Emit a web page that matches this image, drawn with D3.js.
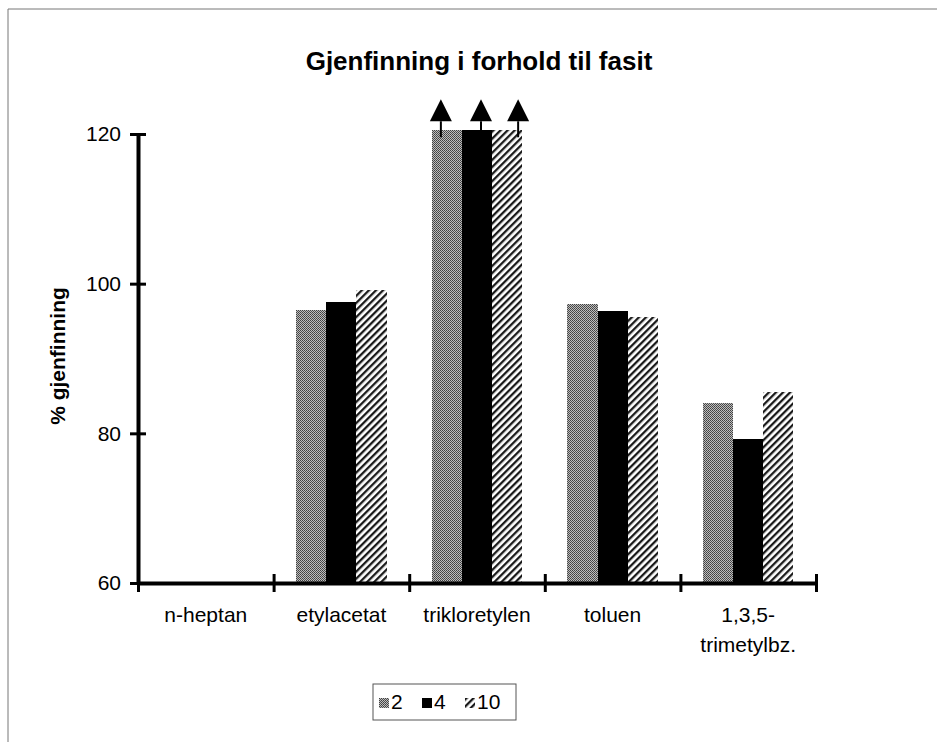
<!DOCTYPE html>
<html>
<head>
<meta charset="utf-8">
<script src="https://cdn.jsdelivr.net/npm/d3@7/dist/d3.min.js"></script>
<style>
  body { margin: 0; background: #fff; }
  svg { display: block; font-family: "Liberation Sans", Arial, sans-serif; }
</style>
</head>
<body>
<svg id="chart"></svg>
<script>
const categories = [["n-heptan"], ["etylacetat"], ["trikloretylen"], ["toluen"], ["1,3,5-", "trimetylbz."]]
const seriesNames = ["2", "4", "10"]
const values2 = [null, 96.5, 120.5, 97.3, 84.1]
const values4 = [null, 97.6, 120.5, 96.4, 79.2]
const values10 = [null, 99.1, 120.5, 95.6, 85.5]
const offScale = [false, false, true, false, false]
const yTicks = [60, 80, 100, 120]

const w = 937
const h = 742

const svg = d3.select("#chart")
  .attr("width", w)
  .attr("height", h)

// fill patterns like the old b/w print
const defs = svg.append("defs")
const dots = defs.append("pattern")
  .attr("id", "p2").attr("patternUnits", "userSpaceOnUse")
  .attr("width", 2).attr("height", 2)
dots.append("rect").attr("width", 2).attr("height", 2).attr("fill", "#bdbdbd")
dots.append("rect").attr("width", 1).attr("height", 1).attr("fill", "#404040")
dots.append("rect").attr("x", 1).attr("y", 1).attr("width", 1).attr("height", 1).attr("fill", "#505050")
const hatch = defs.append("pattern")
  .attr("id", "p10").attr("patternUnits", "userSpaceOnUse")
  .attr("width", 5).attr("height", 5)
  .attr("patternTransform", "rotate(45)")
hatch.append("rect").attr("width", 5).attr("height", 5).attr("fill", "#fff")
hatch.append("rect").attr("width", 2.3).attr("height", 5).attr("fill", "#1a1a1a")
const fills = ["url(#p2)", "#000", "url(#p10)"]

// frame (only top and left are visible in the scan)
svg.append("path")
  .attr("d", `M8,${h} L8,9 L${w},9`)
  .attr("fill", "none")
  .attr("stroke", "#777")
  .attr("stroke-width", 1)

svg.append("text")
  .attr("x", 479).attr("y", 70)
  .attr("text-anchor", "middle")
  .attr("font-size", 26).attr("font-weight", "bold")
  .text("Gjenfinning i forhold til fasit")

const plotLeft = 138, plotRight = 816, plotTop = 134, plotBottom = 583

const y = d3.scaleLinear().domain([60, 120]).range([plotBottom, plotTop])
const xEdge = d3.scaleLinear().domain([0, categories.length]).range([plotLeft, plotRight])
const xBand = d3.scaleBand().domain(d3.range(categories.length)).range([plotLeft, plotRight])
const xSeries = d3.scaleBand().domain(seriesNames).range([0, xBand.bandwidth()]).paddingOuter(0.75)

const data = seriesNames.map((s, i) => ({ name: s, values: [values2, values4, values10][i] }))

// bars
data.forEach((s, si) => {
  svg.append("g").selectAll("rect")
    .data(s.values.map((v, ci) => ({ v, ci })).filter(d => d.v != null))
    .enter()
    .append("rect")
    .attr("x", d => xBand(d.ci) + xSeries(s.name))
    .attr("y", d => y(d.v))
    .attr("width", xSeries.bandwidth())
    .attr("height", d => plotBottom - y(d.v))
    .attr("fill", fills[si])
    .attr("shape-rendering", "crispEdges")
})

// hand drawn arrows for values above the scale, a bit off the bar centres
const arrowShift = [-6, 4, 11]
data.forEach((s, si) => {
  s.values.forEach((v, ci) => {
    if (!offScale[ci]) return
    const cx = xBand(ci) + xSeries(s.name) + xSeries.bandwidth() / 2 + arrowShift[si]
    const base = y(v) - 9
    svg.append("line")
      .attr("x1", cx).attr("x2", cx)
      .attr("y1", y(v) + 7).attr("y2", base)
      .attr("stroke", "#000").attr("stroke-width", 2)
    svg.append("path")
      .attr("d", `M${cx - 11},${base} L${cx + 11},${base} L${cx},${base - 22} Z`)
      .attr("fill", "#000")
  })
})

// y axis
const yAxis = d3.axisLeft(y).tickValues(yTicks).tickSize(0).tickPadding(17)
const gy = svg.append("g").attr("transform", `translate(${plotLeft},0)`).call(yAxis)
gy.select(".domain").attr("stroke-width", 4).attr("stroke", "#000")
gy.selectAll(".tick line").attr("x1", -8).attr("x2", 8).attr("stroke-width", 3).attr("stroke", "#000")
gy.selectAll(".tick text").attr("font-size", 21).attr("font-family", "Liberation Sans, Arial").attr("fill", "#000")

// x axis with ticks between categories
const xAxis = d3.axisBottom(xEdge).tickValues(d3.range(categories.length + 1)).tickSize(0).tickFormat("")
const gx = svg.append("g").attr("transform", `translate(0,${plotBottom})`).call(xAxis)
gx.select(".domain").attr("stroke-width", 4).attr("stroke", "#000")
gx.selectAll(".tick line").attr("y1", -9).attr("y2", 9).attr("stroke-width", 3).attr("stroke", "#000")

// category labels
const labels = svg.append("g").selectAll("text")
  .data(categories)
  .enter()
  .append("text")
  .attr("x", (d, i) => xBand(i) + xBand.bandwidth() / 2)
  .attr("y", 622)
  .attr("text-anchor", "middle")
  .attr("font-size", 21)
labels.selectAll("tspan")
  .data(d => d)
  .enter()
  .append("tspan")
  .attr("x", function () { return d3.select(this.parentNode).attr("x") })
  .attr("dy", (d, i) => i === 0 ? 0 : 30)
  .text(d => d)

svg.append("text")
  .attr("transform", "translate(65,356) rotate(-90)")
  .attr("text-anchor", "middle")
  .attr("font-size", 21).attr("font-weight", "bold")
  .text("% gjenfinning")

// legend
const lg = svg.append("g").attr("transform", "translate(373,684)")
lg.append("rect").attr("width", 143).attr("height", 36)
  .attr("fill", "#fff").attr("stroke", "#555").attr("stroke-width", 1)
const itemX = [6, 49, 92]
seriesNames.forEach((s, i) => {
  lg.append("rect").attr("x", itemX[i]).attr("y", 14).attr("width", 10).attr("height", 10)
    .attr("fill", fills[i]).attr("shape-rendering", "crispEdges")
  lg.append("text").attr("x", itemX[i] + 12).attr("y", 25).attr("font-size", 21).text(s)
})
</script>
</body>
</html>
